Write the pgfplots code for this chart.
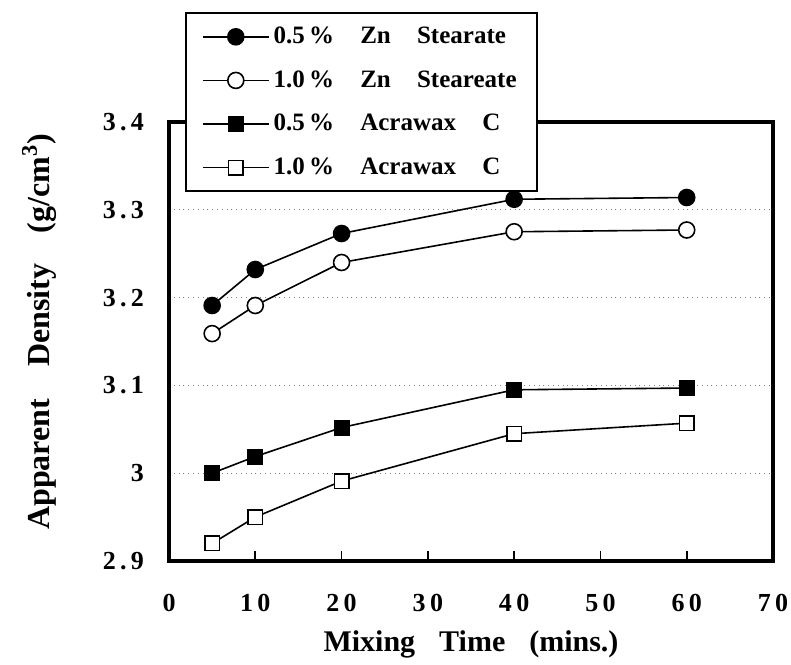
\documentclass[border=0pt]{standalone}
\usepackage{fontspec}
\setmainfont{Liberation Serif}
\usepackage{pgfplots}
\pgfplotsset{compat=1.18}
\begin{document}
\begin{tikzpicture}
\begin{axis}[
  at={(84.5pt,51.5pt)}, anchor=south west,
  scale only axis, width=302pt, height=219.5pt,
  xmin=0, xmax=70, ymin=2.9, ymax=3.4,
  xtick={0,10,20,30,40,50,60,70},
  xticklabels={0,1\,0,2\,0,3\,0,4\,0,5\,0,6\,0,7\,0},
  ytick={2.9,3,3.1,3.2,3.3,3.4},
  yticklabels={2\,.\,9,3,3\,.\,1,3\,.\,2,3\,.\,3,3\,.\,4},
  axis line style={line width=2pt},
  tick align=inside, xtick pos=left, ytick pos=left,
  major tick length=5pt,
  xtick style={line width=0.9pt, black},
  ytick style={draw=none},
  ymajorgrids, grid style={dotted, gray, line width=0.6pt},
  ticklabel style={font=\fontsize{13}{15}\selectfont\bfseries},
  xticklabel style={yshift=-13pt},
  yticklabel style={xshift=-9pt},
  xlabel={Mixing\hspace{0.55em} Time\hspace{0.55em} (mins.)},
  xlabel style={font=\fontsize{15}{18}\selectfont\bfseries, at={(axis description cs:0.5,-0.19)}, anchor=center},
  ylabel={Apparent\hspace{0.75em} Density\hspace{0.7em} (g/cm\textsuperscript{3})},
  ylabel style={font=\fontsize{16}{19}\selectfont\bfseries, at={(axis description cs:-0.215,0.522)}, anchor=center},
  legend cell align=left,
  legend image code/.code={\draw[mark repeat=2,mark phase=2] plot coordinates {(0pt,0pt) (16.5pt,0pt) (33pt,0pt)};},
  legend style={at={(0.0265,1.2506)}, anchor=north west, draw=black, line width=1pt, fill=white,
    font=\fontsize{12.5}{14}\selectfont\bfseries, inner xsep=8pt, inner ysep=5pt, row sep=8pt},
  every axis plot/.append style={black, line width=0.8pt},
]
\addplot[mark=*, mark size=4pt, mark options={fill=black}] coordinates {
(5,3.191) (10,3.232) (20,3.273) (40,3.312) (60,3.314)};
\addlegendentry{0.5\,\%\hspace{0.8em} Zn\hspace{0.8em} Stearate}
\addplot[mark=*, mark size=4pt, mark options={fill=white}] coordinates {
(5,3.159) (10,3.191) (20,3.240) (40,3.275) (60,3.277)};
\addlegendentry{1.0\,\%\hspace{0.8em} Zn\hspace{0.8em} Steareate\hspace{3pt}}
\addplot[mark=square*, mark size=3.6pt, mark options={fill=black}] coordinates {
(5,3.000) (10,3.019) (20,3.052) (40,3.095) (60,3.097)};
\addlegendentry{0.5\,\%\hspace{0.8em} Acrawax\hspace{0.8em} C}
\addplot[mark=square*, mark size=3.6pt, mark options={fill=white}] coordinates {
(5,2.920) (10,2.950) (20,2.991) (40,3.045) (60,3.057)};
\addlegendentry{1.0\,\%\hspace{0.8em} Acrawax\hspace{0.8em} C}
\end{axis}
\pgfresetboundingbox
\path[use as bounding box] (0,0) rectangle (395.5pt,332pt);
\end{tikzpicture}
\end{document}
